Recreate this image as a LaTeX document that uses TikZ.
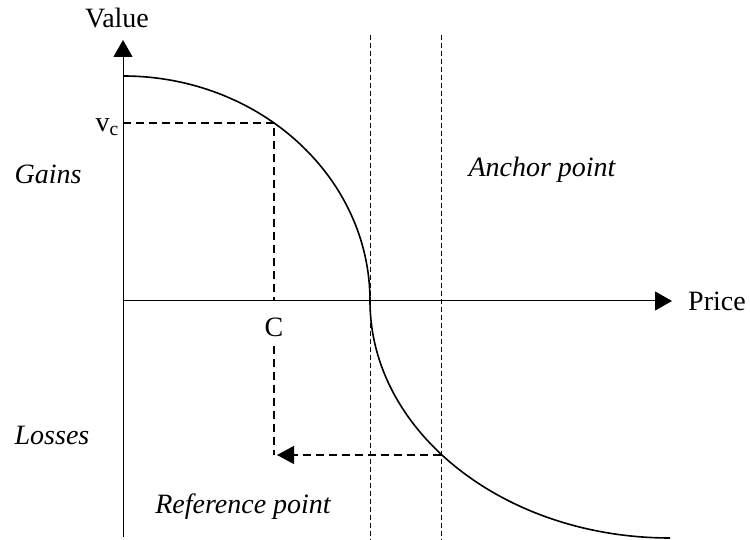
\documentclass[tikz,border=0pt]{standalone}
\usepackage{fontspec}
\setmainfont{Liberation Serif}
\usetikzlibrary{arrows.meta,positioning,calc}

\begin{document}
\begin{tikzpicture}[
  x=1pt,y=1pt,
  every node/.style={font=\fontsize{28}{30}\selectfont,inner sep=0pt},
  axis/.style={line width=1pt,-{Triangle[length=17pt,width=19pt]}},
  curve/.style={line width=1.6pt},
  guide/.style={line width=1.2pt,dash pattern=on 8pt off 5pt},
  anchorline/.style={line width=0.9pt,dash pattern=on 5pt off 3pt},
  lbl/.style={font=\fontsize{28}{30}\selectfont\itshape}
]
\useasboundingbox (0,0) rectangle (750,540);
% Achsen
\coordinate (O) at (123,239);
\coordinate (ybot) at (123,3);
\coordinate (ytop) at (123,500);
\coordinate (xend) at (672,239);
\draw[axis] (ybot) -- (ytop);
\draw[axis] (O) -- (xend);
\node (value) at (117,522) {Value};
\node[right=16pt of xend] (price) {Price};

% Wertkurve
\coordinate (start) at (123,464);
\coordinate (mid) at (370,239);
\draw[curve] (start) arc[start angle=90,end angle=0,x radius=247,y radius=225]
  coordinate (mid) arc[start angle=180,end angle=270,x radius=300,y radius=237];

% Ankerlinien
\coordinate (a1t) at (370,505); \coordinate (a1b) at (370,0);
\coordinate (a2t) at (441,505); \coordinate (a2b) at (441,0);
\draw[anchorline] (a1t) -- (a1b);
\draw[anchorline] (a2t) -- (a2b);

% Punkt C
\coordinate (pc) at (274,417);
\coordinate (pr) at (441,85);
\node[anchor=east] (vc) at (119,413) {v\textsubscript{c}};
\node (C) at (274,213) {C};
\coordinate (corner) at (C |- pr);
\draw[guide] (O |- pc) -- (pc) -- (pc |- O);
\draw[guide] (C.south) ++(0,-9) -- (corner);
\draw[guide,-{Triangle[length=17pt,width=18pt]}] (pr) -- ($(corner)+(3,0)$);

% Beschriftungen
\node[lbl] (gains) at (48,366) {Gains};
\node[lbl] (anchor) at (542,370) {Anchor point};
\node[lbl] (losses) at (52,105) {Losses};
\node[lbl] (refpt) at (243,33) {Reference point};
\end{tikzpicture}
\end{document}
